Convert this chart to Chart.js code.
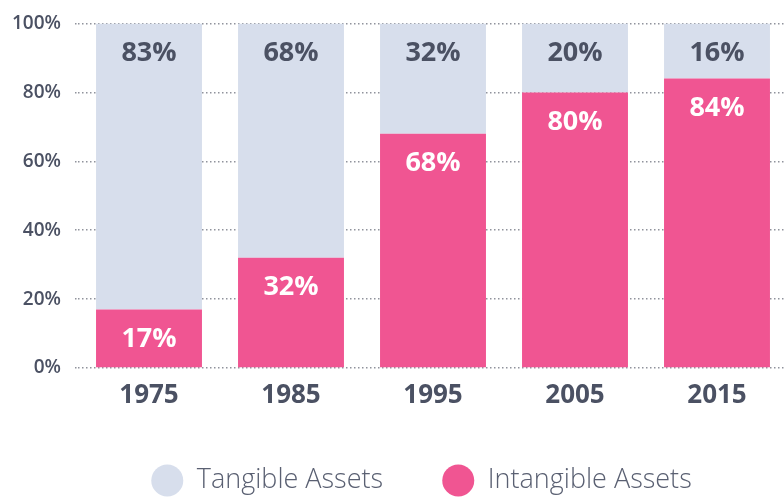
<!DOCTYPE html>
<html>
<head>
<meta charset="utf-8">
<script src="https://cdn.jsdelivr.net/npm/chart.js@4"></script>
<style>
    html, body { margin: 0; padding: 0; background: #fff; overflow: hidden; }
    #wrap { width: 788px; height: 498px; }
</style>
</head>
<body>
<div id="wrap"><canvas id="assetsChart" width="788" height="498"></canvas></div>
<script>
// Dati
const years = ['1975', '1985', '1995', '2005', '2015'];
const intangibleValues = [17, 32, 68, 80, 84];
const tangibleValues = [83, 68, 32, 20, 16];
const yTicks = [0, 20, 40, 60, 80, 100];

const textColor = '#4b5163';
const pink = '#f05592';
const lightBlue = '#d7deec';

// Etichette dentro le barre
const barLabels = {
    id: 'barLabels',
    afterDraw(chart) {
        const ctx = chart.ctx;
        ctx.save();
        ctx.font = 'bold 27px "Open Sans"';
        ctx.textAlign = 'center';
        ctx.textBaseline = 'middle';
        chart.data.datasets.forEach((ds, i) => {
            const meta = chart.getDatasetMeta(i);
            meta.data.forEach((bar, j) => {
                const top = Math.min(bar.y, bar.base);
                ctx.fillStyle = i === 0 ? '#ffffff' : textColor;
                ctx.fillText(ds.data[j] + '%', bar.x, top + 30);
            });
        });
        ctx.restore();
    }
};

// Sposta un po' la legenda (a destra e in basso)
const legendShift = {
    id: 'legendShift',
    afterLayout(chart) {
        if (chart.legend) {
            chart.legend.left = 55;
            chart.legend.top += 6;
            chart.legend.bottom += 6;
        }
    }
};

const ctx = document.getElementById('assetsChart').getContext('2d');
new Chart(ctx, {
    type: 'bar',
    data: {
        labels: years,
        datasets: [
            {
                label: 'Intangible Assets',
                data: intangibleValues,
                backgroundColor: pink,
                borderWidth: 0
            },
            {
                label: 'Tangible Assets',
                data: tangibleValues,
                backgroundColor: lightBlue,
                borderWidth: 0
            }
        ]
    },
    options: {
        responsive: false,
        animation: false,
        devicePixelRatio: 1,
        layout: { padding: { left: 0, top: 11, right: 0, bottom: 0 } },
        datasets: {
            bar: { categoryPercentage: 1, barPercentage: 0.746 }
        },
        scales: {
            x: {
                stacked: true,
                grid: { display: false },
                border: { display: false },
                ticks: {
                    color: textColor,
                    font: { family: 'Open Sans', size: 26, weight: 'bold' },
                    padding: 4
                },
                afterFit(scale) { scale.height = 90; }
            },
            y: {
                stacked: true,
                min: 0,
                max: 100,
                z: 1,
                afterBuildTicks(scale) {
                    scale.ticks = yTicks.map(v => ({ value: v }));
                },
                ticks: {
                    color: textColor,
                    font: { family: 'Open Sans', size: 19, weight: '600', lineHeight: 1 },
                    padding: 14,
                    callback: v => v + '%'
                },
                grid: {
                    color: 'rgba(70,75,90,0.6)',
                    lineWidth: 1.5,
                    drawTicks: true,
                    tickLength: 3,
                    tickBorderDash: [1.5, 2.5]
                },
                border: { display: false, dash: [1.5, 2.5] },
                afterFit(scale) { scale.width = 78; }
            }
        },
        plugins: {
            tooltip: { enabled: false },
            legend: {
                position: 'bottom',
                reverse: true,
                labels: {
                    usePointStyle: true,
                    pointStyle: 'circle',
                    pointStyleWidth: 32,
                    boxHeight: 22.63,
                    padding: 3,
                    color: '#5a6072',
                    font: { family: 'Open Sans', size: 27, weight: '300' },
                    generateLabels(chart) {
                        const items = Chart.defaults.plugins.legend.labels.generateLabels(chart);
                        items.forEach(it => {
                            if (it.datasetIndex === 1) it.text = it.text + '        ';
                        });
                        return items;
                    }
                }
            }
        }
    },
    plugins: [barLabels, legendShift]
});
</script>
</body>
</html>
